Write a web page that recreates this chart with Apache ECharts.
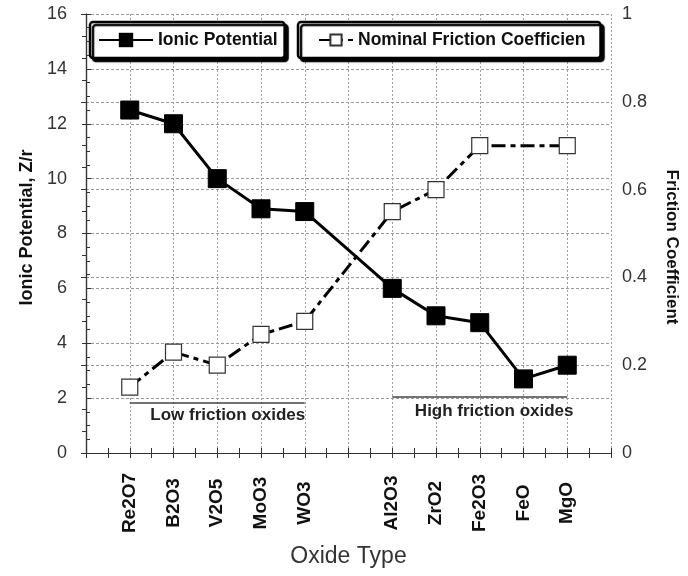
<!DOCTYPE html>
<html>
<head>
<meta charset="utf-8">
<script src="https://cdn.jsdelivr.net/npm/echarts@6/dist/echarts.min.js"></script>
<style>html,body{margin:0;padding:0;background:#fff}#c{width:688px;height:576px}</style>
</head>
<body>
<div id="c"></div>
<script>
// Oxide categories (the empty entry is the gap between the two groups)
const categories = ['Re2O7','B2O3','V2O5','MoO3','WO3','','Al2O3','ZrO2','Fe2O3','FeO','MgO'];
// Ionic potential Z/r (left axis)
const ionicPotential = [12.5, 12.0, 10.0, 8.9, 8.8, null, 6.0, 5.0, 4.75, 2.7, 3.2];
// Nominal friction coefficient (right axis); FeO has no value
const frictionCoeff = [0.15, 0.23, 0.20, 0.27, 0.30, null, 0.55, 0.60, 0.70, null, 0.70];
const leftTickLabels = ['0','2','4','6','8','10','12','14','16'];
const rightTickLabels = ['0','0.2','0.4','0.6','0.8','1'];

const FONT = '"Liberation Sans", Arial, Helvetica, sans-serif';

function toPairs(vals) {
  const out = [];
  vals.forEach((v, i) => { if (v !== null) out.push([i + 1, v]); });
  return out;
}

const chart = echarts.init(document.getElementById('c'), null, {renderer: 'canvas'});

const gridLine = {show: true, lineStyle: {color: '#9a9a9a', type: [3, 2], width: 1}};
const frame = {show: true, lineStyle: {color: '#333', width: 1.2}};

chart.setOption({
  backgroundColor: '#fff',
  animation: false,
  textStyle: {fontFamily: FONT},
  grid: {left: 86, right: 76, top: 14, bottom: 123},
  legend: [
    {
      data: ['Ionic Potential'],
      left: 90, top: 22,
      padding: [9, 7, 9, 8],
      itemWidth: 54, itemHeight: 18, itemGap: 6,
      backgroundColor: '#fff',
      borderColor: '#000', borderWidth: 2.5, borderRadius: 3,
      shadowColor: '#000', shadowBlur: 1, shadowOffsetX: 3, shadowOffsetY: 3,
      textStyle: {fontFamily: FONT, fontSize: 17.5, fontWeight: 'bold', color: '#111'}
    },
    {
      data: ['Nominal Friction Coefficient'],
      left: 298, top: 22,
      padding: [9, 15, 9, 20],
      itemWidth: 34, itemHeight: 14, itemGap: 14,
      backgroundColor: '#fff',
      borderColor: '#000', borderWidth: 2.5, borderRadius: 3,
      shadowColor: '#000', shadowBlur: 1, shadowOffsetX: 3, shadowOffsetY: 3,
      textStyle: {fontFamily: FONT, fontSize: 17.5, fontWeight: 'bold', color: '#111',
                  width: 233, overflow: 'truncate', ellipsis: ''}
    }
  ],
  xAxis: [
    {
      type: 'value', position: 'bottom', min: 0, max: 12, interval: 1,
      name: 'Oxide Type', nameLocation: 'middle', nameGap: 92,
      nameTextStyle: {fontFamily: FONT, fontSize: 23, color: '#333'},
      axisLine: frame,
      axisTick: {show: true, inside: true, length: 5, lineStyle: {color: '#333'}},
      minorTick: {show: true, splitNumber: 2, length: 5, lineStyle: {color: '#333'}},
      axisLabel: {
        rotate: 90, align: 'center', verticalAlign: 'middle', margin: 50,
        fontFamily: FONT, fontSize: 19, fontWeight: 'bold', color: '#111',
        formatter: v => categories[v - 1] || ''
      },
      splitLine: {show: true, lineStyle: {color: '#a0a0a0', type: [2, 2], width: 1}}
    },
    {
      type: 'value', position: 'top', min: 0, max: 12, interval: 1,
      axisLine: frame,
      axisTick: {show: true, inside: true, length: 5, lineStyle: {color: '#333'}},
      minorTick: {show: true, splitNumber: 2, length: 5, lineStyle: {color: '#333'}},
      axisLabel: {show: false},
      splitLine: {show: false}
    }
  ],
  yAxis: [
    {
      type: 'value', position: 'left', min: 0, max: 16, interval: 2,
      name: 'Ionic Potential, Z/r', nameLocation: 'middle', nameGap: 50, nameRotate: 90,
      nameTextStyle: {fontFamily: FONT, fontSize: 18, fontWeight: 'bold', color: '#111', padding: [0, 0, 0, 12]},
      axisLine: frame,
      axisTick: {show: true, inside: true, length: 5, lineStyle: {color: '#333'}},
      minorTick: {show: true, splitNumber: 4, length: 4, lineStyle: {color: '#333'}},
      axisLabel: {margin: 19, fontFamily: FONT, fontSize: 18, color: '#333',
                  formatter: v => leftTickLabels[Math.round(v / 2)]},
      splitLine: gridLine
    },
    {
      type: 'value', position: 'right', min: 0, max: 1, interval: 0.2,
      name: 'Friction Coefficient', nameLocation: 'middle', nameGap: 52, nameRotate: -90,
      nameTextStyle: {fontFamily: FONT, fontSize: 17, fontWeight: 'bold', color: '#111', padding: [0, 0, 0, 27]},
      axisLine: frame,
      axisTick: {show: true, inside: true, length: 5, lineStyle: {color: '#333'}},
      minorTick: {show: true, splitNumber: 4, length: 4, lineStyle: {color: '#333'}},
      axisLabel: {margin: 11, fontFamily: FONT, fontSize: 18, color: '#333',
                  formatter: v => rightTickLabels[Math.round(v * 5)]},
      splitLine: gridLine
    }
  ],
  series: [
    {
      name: 'Ionic Potential', type: 'line', xAxisIndex: 0, yAxisIndex: 0,
      data: toPairs(ionicPotential),
      symbol: 'rect', symbolSize: 18,
      itemStyle: {color: '#000', borderColor: '#000'},
      lineStyle: {color: '#000', width: 3},
      z: 3,
      markLine: {
        silent: true, symbol: 'none',
        lineStyle: {color: '#444', width: 1.5, type: 'solid'},
        label: {show: false},
        data: [
          [{coord: [1, 1.82]}, {coord: [5, 1.82]}],
          [{coord: [7, 2.04]}, {coord: [11, 2.04]}]
        ]
      },
      markPoint: {
        silent: true, symbol: 'circle', symbolSize: 2,
        itemStyle: {color: 'rgba(0,0,0,0)'},
        label: {show: true, position: 'inside', fontFamily: FONT, fontSize: 17, fontWeight: 'bold', color: '#222',
                formatter: p => p.name},
        data: [
          {name: 'Low friction oxides', coord: [3.24, 1.36]},
          {name: 'High friction oxides', coord: [9.33, 1.53]}
        ]
      }
    },
    {
      name: 'Nominal Friction Coefficient', type: 'line', xAxisIndex: 0, yAxisIndex: 1,
      data: toPairs(frictionCoeff),
      symbol: 'rect', symbolSize: 16,
      itemStyle: {color: '#fff', borderColor: '#333', borderWidth: 1.2},
      lineStyle: {color: '#000', width: 3, type: [14, 5, 5, 5]},
      z: 4
    }
  ]
});
</script>
</body>
</html>
